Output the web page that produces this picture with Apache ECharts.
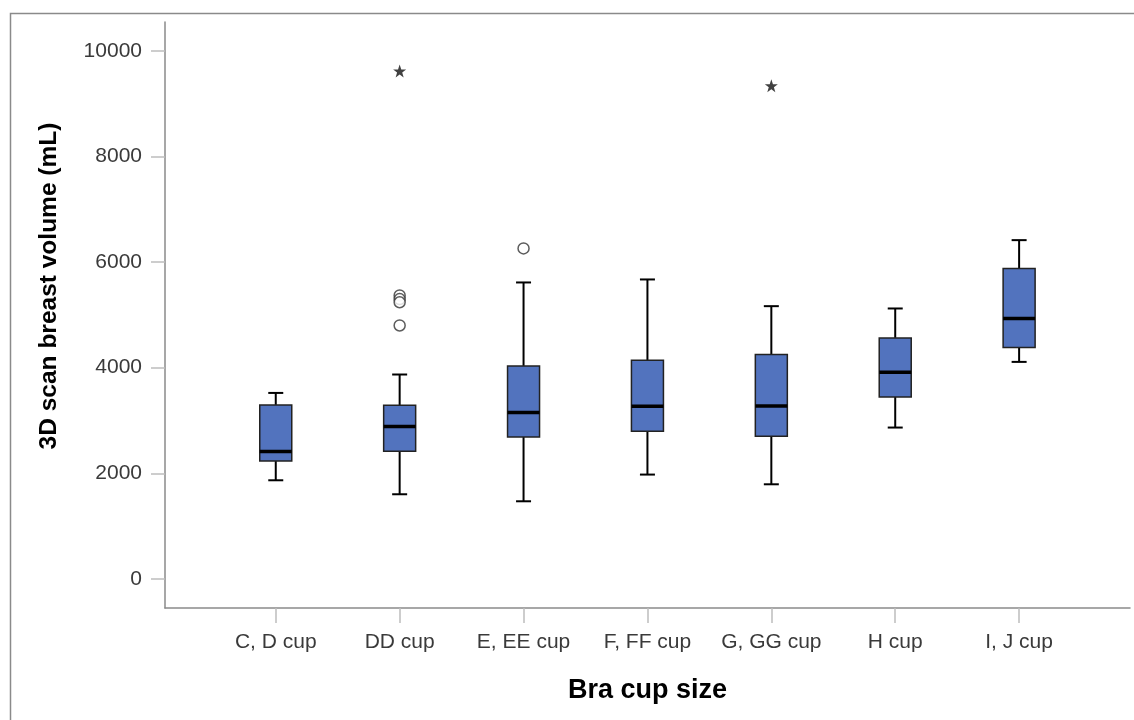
<!DOCTYPE html>
<html>
<head>
<meta charset="utf-8">
<script src="https://cdn.jsdelivr.net/npm/echarts@6/dist/echarts.min.js"></script>
<style>
html,body{margin:0;padding:0;background:#fff;}
#chart{width:1134px;height:720px;}
</style>
</head>
<body>
<div id="chart"></div>
<script>
// ---- data ----
const categories = ['C, D cup', 'DD cup', 'E, EE cup', 'F, FF cup', 'G, GG cup', 'H cup', 'I, J cup'];
const lowerWhisker = [1867, 1602, 1469, 1975, 1791, 2866, 4110];
const q1Values     = [2233, 2417, 2688, 2796, 2701, 3447, 4383];
const medianValues = [2411, 2885, 3150, 3270, 3276, 3915, 4933];
const q3Values     = [3295, 3289, 4034, 4142, 4250, 4565, 5880];
const upperWhisker = [3522, 3871, 5615, 5672, 5166, 5122, 6417];
// outliers: [category index, value]
const outlierPoints = [[1, 5370], [1, 5300], [1, 5240], [1, 4800], [2, 6260]];
const extremePoints = [[1, 9621], [4, 9342]];
const yTicks = [0, 2000, 4000, 6000, 8000, 10000];
const xTicks = [0, 1, 2, 3, 4, 5, 6];

const boxData = categories.map((c, i) => [i, lowerWhisker[i], q1Values[i], medianValues[i], q3Values[i], upperWhisker[i]]);

const chart = echarts.init(document.getElementById('chart'));
const FONT = '"Liberation Sans", Arial, sans-serif';
const BOX_W = 32, CAP_W = 15;
const STAR = 'path://M50,0 L61.8,35.1 L97.6,34.5 L68.8,56 L79.4,90.5 L50,69.5 L20.6,90.5 L31.2,56 L2.4,34.5 L38.2,35.1 Z';

function renderBox(params, api) {
  const x = api.value(0);
  const pMin = api.coord([x, api.value(1)]);
  const pQ1 = api.coord([x, api.value(2)]);
  const pMed = api.coord([x, api.value(3)]);
  const pQ3 = api.coord([x, api.value(4)]);
  const pMax = api.coord([x, api.value(5)]);
  const cx = pMin[0];
  const lineStyle = { stroke: '#000', lineWidth: 2 };
  return {
    type: 'group',
    children: [
      { type: 'line', shape: { x1: cx, y1: pMin[1], x2: cx, y2: pQ1[1] }, style: lineStyle },
      { type: 'line', shape: { x1: cx, y1: pQ3[1], x2: cx, y2: pMax[1] }, style: lineStyle },
      { type: 'line', shape: { x1: cx - CAP_W / 2, y1: pMin[1], x2: cx + CAP_W / 2, y2: pMin[1] }, style: lineStyle },
      { type: 'line', shape: { x1: cx - CAP_W / 2, y1: pMax[1], x2: cx + CAP_W / 2, y2: pMax[1] }, style: lineStyle },
      { type: 'rect', shape: { x: cx - BOX_W / 2, y: pQ3[1], width: BOX_W, height: pQ1[1] - pQ3[1] },
        style: { fill: '#5273be', stroke: '#222', lineWidth: 1.5 } },
      { type: 'line', shape: { x1: cx - BOX_W / 2, y1: pMed[1], x2: cx + BOX_W / 2, y2: pMed[1] },
        style: { stroke: '#000', lineWidth: 3.5 } }
    ]
  };
}

const option = {
  animation: false,
  backgroundColor: '#fff',
  grid: { left: 165, right: 4, top: 22, bottom: 112, containLabel: false, outerBoundsMode: 'none' },
  xAxis: {
    type: 'value',
    min: -0.894,
    max: 6.895,
    name: 'Bra cup size',
    nameLocation: 'middle',
    nameGap: 69,
    nameTextStyle: { fontFamily: FONT, fontSize: 27, fontWeight: 'bold', color: '#000' },
    axisLine: { show: true, onZero: false, lineStyle: { color: '#8a8a8a', width: 1.5 } },
    axisTick: { show: true, customValues: xTicks, length: 15, lineStyle: { color: '#bdbdbd', width: 1.5 } },
    axisLabel: { customValues: xTicks, margin: 24, fontFamily: FONT, fontSize: 21, color: '#3a3a3a',
      formatter: v => categories[Math.round(v)] },
    splitLine: { show: false }
  },
  yAxis: {
    type: 'value',
    min: -553,
    max: 10550,
    axisLine: { show: true, onZero: false, lineStyle: { color: '#8a8a8a', width: 1.5 } },
    axisTick: { show: true, customValues: yTicks, length: 14, lineStyle: { color: '#bdbdbd', width: 1.5 } },
    axisLabel: { customValues: yTicks, margin: 23, fontFamily: FONT, fontSize: 21, color: '#3a3a3a',
      formatter: v => String(Math.round(v)) },
    splitLine: { show: false }
  },
  graphic: [
    { type: 'rect', left: 8, top: 11, shape: { x: 0, y: 0, width: 1300, height: 900 },
      style: { fill: 'none', stroke: '#8a8a8a', lineWidth: 1.5 }, silent: true, z: -1 },
    { type: 'text', x: 49, y: 286, rotation: Math.PI / 2,
      style: { text: '3D scan breast volume (mL)', fontFamily: FONT, fontSize: 24.5, fontWeight: 'bold',
        fill: '#000', align: 'center', verticalAlign: 'middle' } }
  ],
  series: [
    { type: 'custom', renderItem: renderBox, data: boxData, encode: { x: 0, y: [1, 2, 3, 4, 5] }, z: 2 },
    { type: 'scatter', data: outlierPoints, symbol: 'circle', symbolSize: 11,
      itemStyle: { color: '#ffffff', borderColor: '#333', borderWidth: 1.5 }, z: 3 },
    { type: 'scatter', data: extremePoints, symbol: STAR, symbolSize: 13,
      itemStyle: { color: '#111' }, z: 3 }
  ]
};
chart.setOption(option);
</script>
</body>
</html>
